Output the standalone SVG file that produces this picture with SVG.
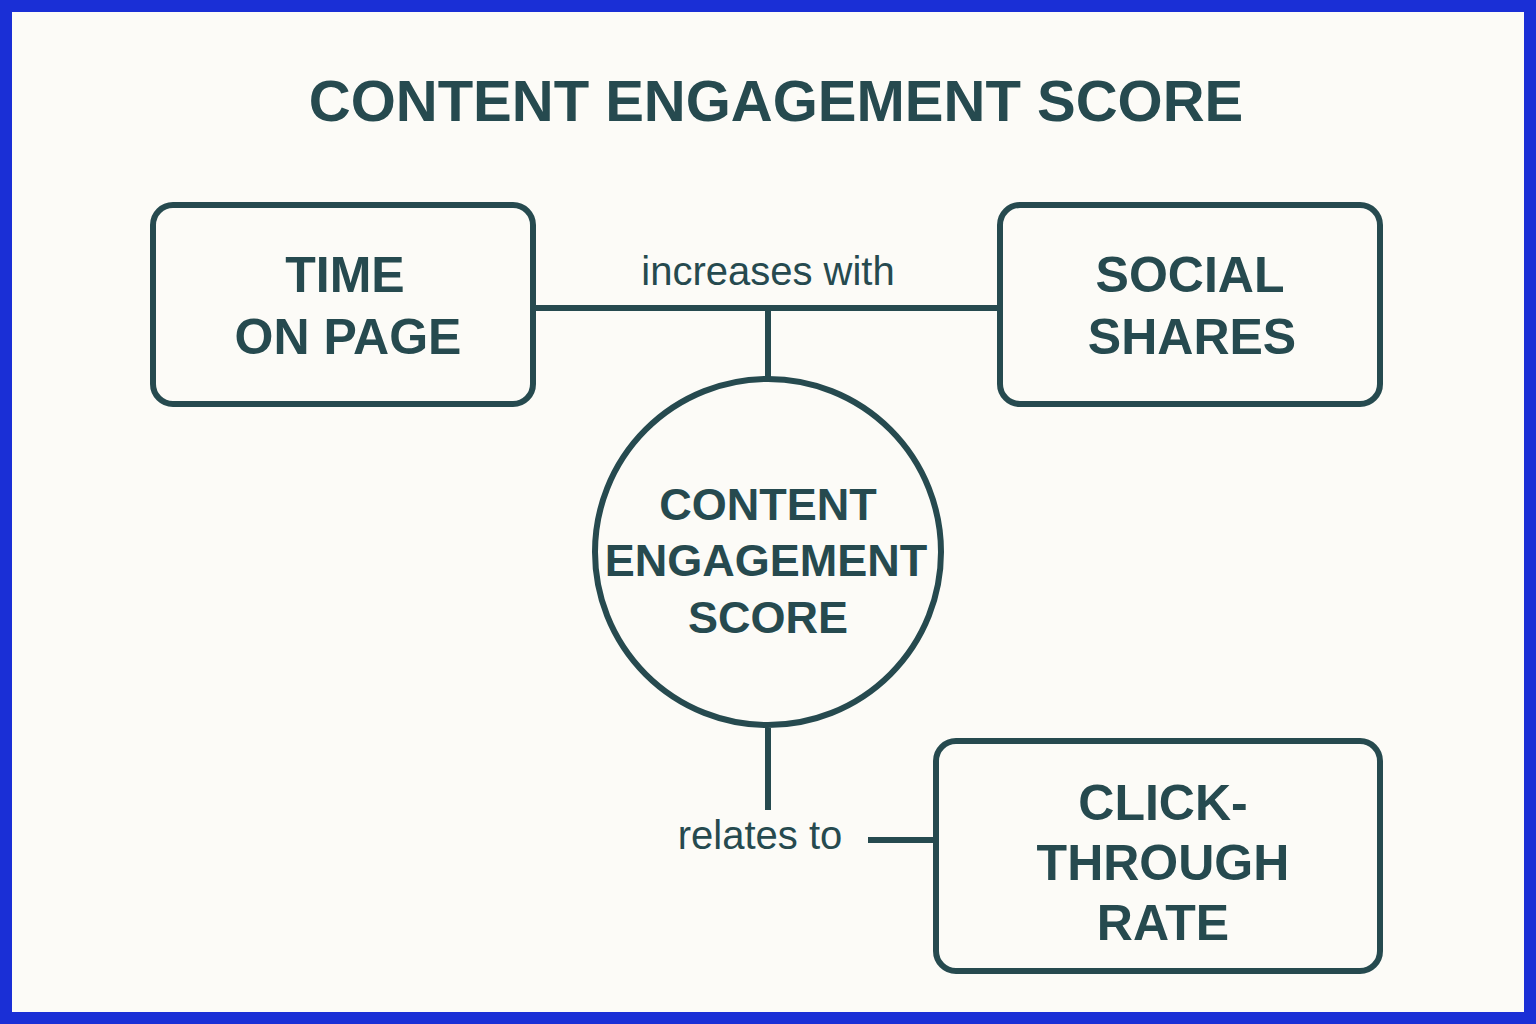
<svg xmlns="http://www.w3.org/2000/svg" width="1536" height="1024" viewBox="0 0 1536 1024">
<style>
.b{fill:none;stroke:#264a4f;stroke-width:6}
.t{font-family:"Liberation Sans",Arial,sans-serif;font-weight:bold;fill:#264a4f;text-anchor:middle}
.l{font-family:"Liberation Sans",Arial,sans-serif;font-weight:500;fill:#264a4f;text-anchor:middle;font-size:40px}
</style>
<rect x="6" y="6" width="1524" height="1012" fill="#fcfbf7" stroke="#1a2fd6" stroke-width="12"/>
<text class="t" x="776" y="121" font-size="58">CONTENT ENGAGEMENT SCORE</text>
<g id="connectors">
<line class="b" x1="533" y1="308" x2="1000" y2="308"/>
<line class="b" x1="768" y1="308" x2="768" y2="380"/>
<line class="b" x1="768" y1="728" x2="768" y2="810"/>
<line class="b" x1="868" y1="840" x2="937" y2="840"/>
<text class="l" x="768" y="285">increases with</text>
<text class="l" x="760" y="849">relates to</text>
</g>
<g id="time">
<rect class="b" x="153" y="205" width="380" height="199" rx="20"/>
<text class="t" x="345" y="292" font-size="50">TIME</text>
<text class="t" x="348" y="354" font-size="50">ON PAGE</text>
</g>
<g id="social">
<rect class="b" x="1000" y="205" width="380" height="199" rx="20"/>
<text class="t" x="1190" y="292" font-size="50">SOCIAL</text>
<text class="t" x="1192" y="354" font-size="50">SHARES</text>
</g>
<g id="score">
<circle class="b" cx="768" cy="552" r="173"/>
<text class="t" x="768" y="520" font-size="45">CONTENT</text>
<text class="t" x="766" y="576" font-size="45">ENGAGEMENT</text>
<text class="t" x="768" y="633" font-size="45">SCORE</text>
</g>
<g id="ctr">
<rect class="b" x="936" y="741" width="444" height="230" rx="20"/>
<text class="t" x="1163" y="820" font-size="50">CLICK-</text>
<text class="t" x="1163" y="880" font-size="50">THROUGH</text>
<text class="t" x="1163" y="940" font-size="50">RATE</text>
</g>
</svg>
